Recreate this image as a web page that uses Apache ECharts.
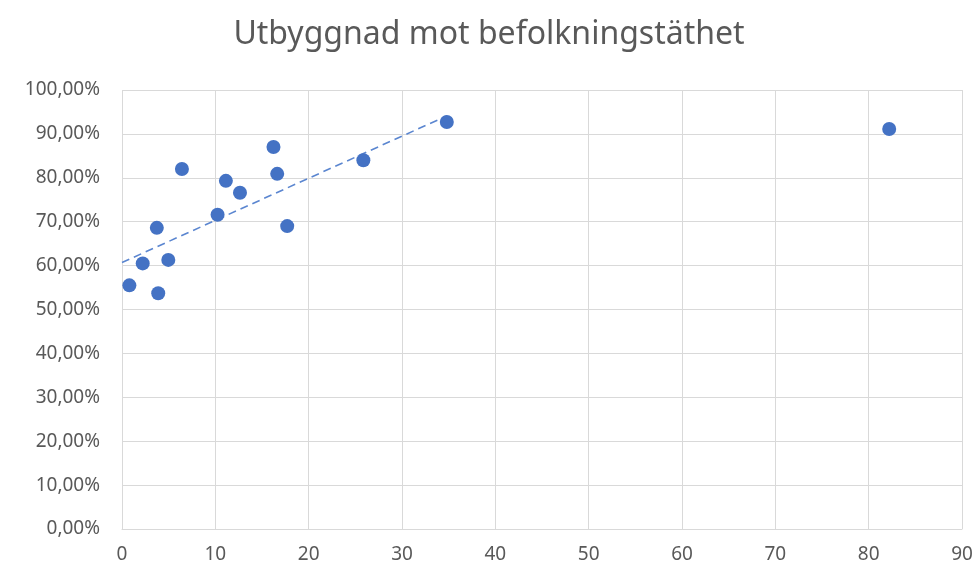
<!DOCTYPE html>
<html>
<head>
<meta charset="utf-8">
<script src="https://cdn.jsdelivr.net/npm/echarts@6/dist/echarts.min.js"></script>
<style>
  html, body { margin: 0; padding: 0; background: #fff; }
  #chart { width: 978px; height: 568px; }
</style>
</head>
<body>
<div id="chart"></div>
<script>
// befolkningstäthet (x) och utbyggnad i procent (y)
var tathet = [0.79, 2.22, 3.73, 3.88, 4.96, 6.42, 10.24, 11.13, 12.64, 16.23, 16.63, 17.7, 25.86, 34.8, 82.2];
var utbyggnad = [55.5, 60.5, 68.6, 53.7, 61.3, 82.0, 71.6, 79.3, 76.6, 87.0, 80.9, 69.0, 84.0, 92.7, 91.1];
// trendlinjens ändpunkter
var trendX = [0, 34.8];
var trendY = [60.7, 94.1];

var fontFam = "'Noto Sans', 'Liberation Sans', sans-serif";

var punkter = tathet.map(function (x, i) { return [x, utbyggnad[i]]; });
var trend = trendX.map(function (x, i) { return [x, trendY[i]]; });

var myChart = echarts.init(document.getElementById('chart'));
myChart.setOption({
  animation: false,
  title: {
    text: 'Utbyggnad mot befolkningstäthet',
    left: 'center',
    top: 14,
    textStyle: { fontFamily: fontFam, fontSize: 32, fontWeight: 'normal', color: '#595959' }
  },
  grid: { left: 122, right: 16, top: 90, bottom: 39 },
  xAxis: {
    type: 'value',
    min: 0, max: 90, interval: 10,
    axisLine: { show: true, lineStyle: { color: '#d9d9d9', width: 1 } },
    axisTick: { show: false },
    splitLine: { show: true, lineStyle: { color: '#d9d9d9', width: 1 } },
    axisLabel: { color: '#595959', fontSize: 19, fontFamily: fontFam, margin: 16 }
  },
  yAxis: {
    type: 'value',
    min: 0, max: 100, interval: 10,
    axisLine: { show: false },
    axisTick: { show: false },
    splitLine: { show: true, lineStyle: { color: '#d9d9d9', width: 1 } },
    axisLabel: {
      color: '#595959', fontSize: 19, fontFamily: fontFam, margin: 22,
      formatter: function (v) { return v.toFixed(2).replace('.', ',') + '%'; }
    }
  },
  series: [
    {
      type: 'line',
      data: trend,
      symbol: 'none',
      lineStyle: { color: '#5b86d0', width: 1.6, type: [8, 5] },
      z: 1
    },
    {
      type: 'scatter',
      data: punkter,
      symbolSize: 14,
      itemStyle: { color: '#4472c4', opacity: 1 },
      z: 2
    }
  ]
});
</script>
</body>
</html>
